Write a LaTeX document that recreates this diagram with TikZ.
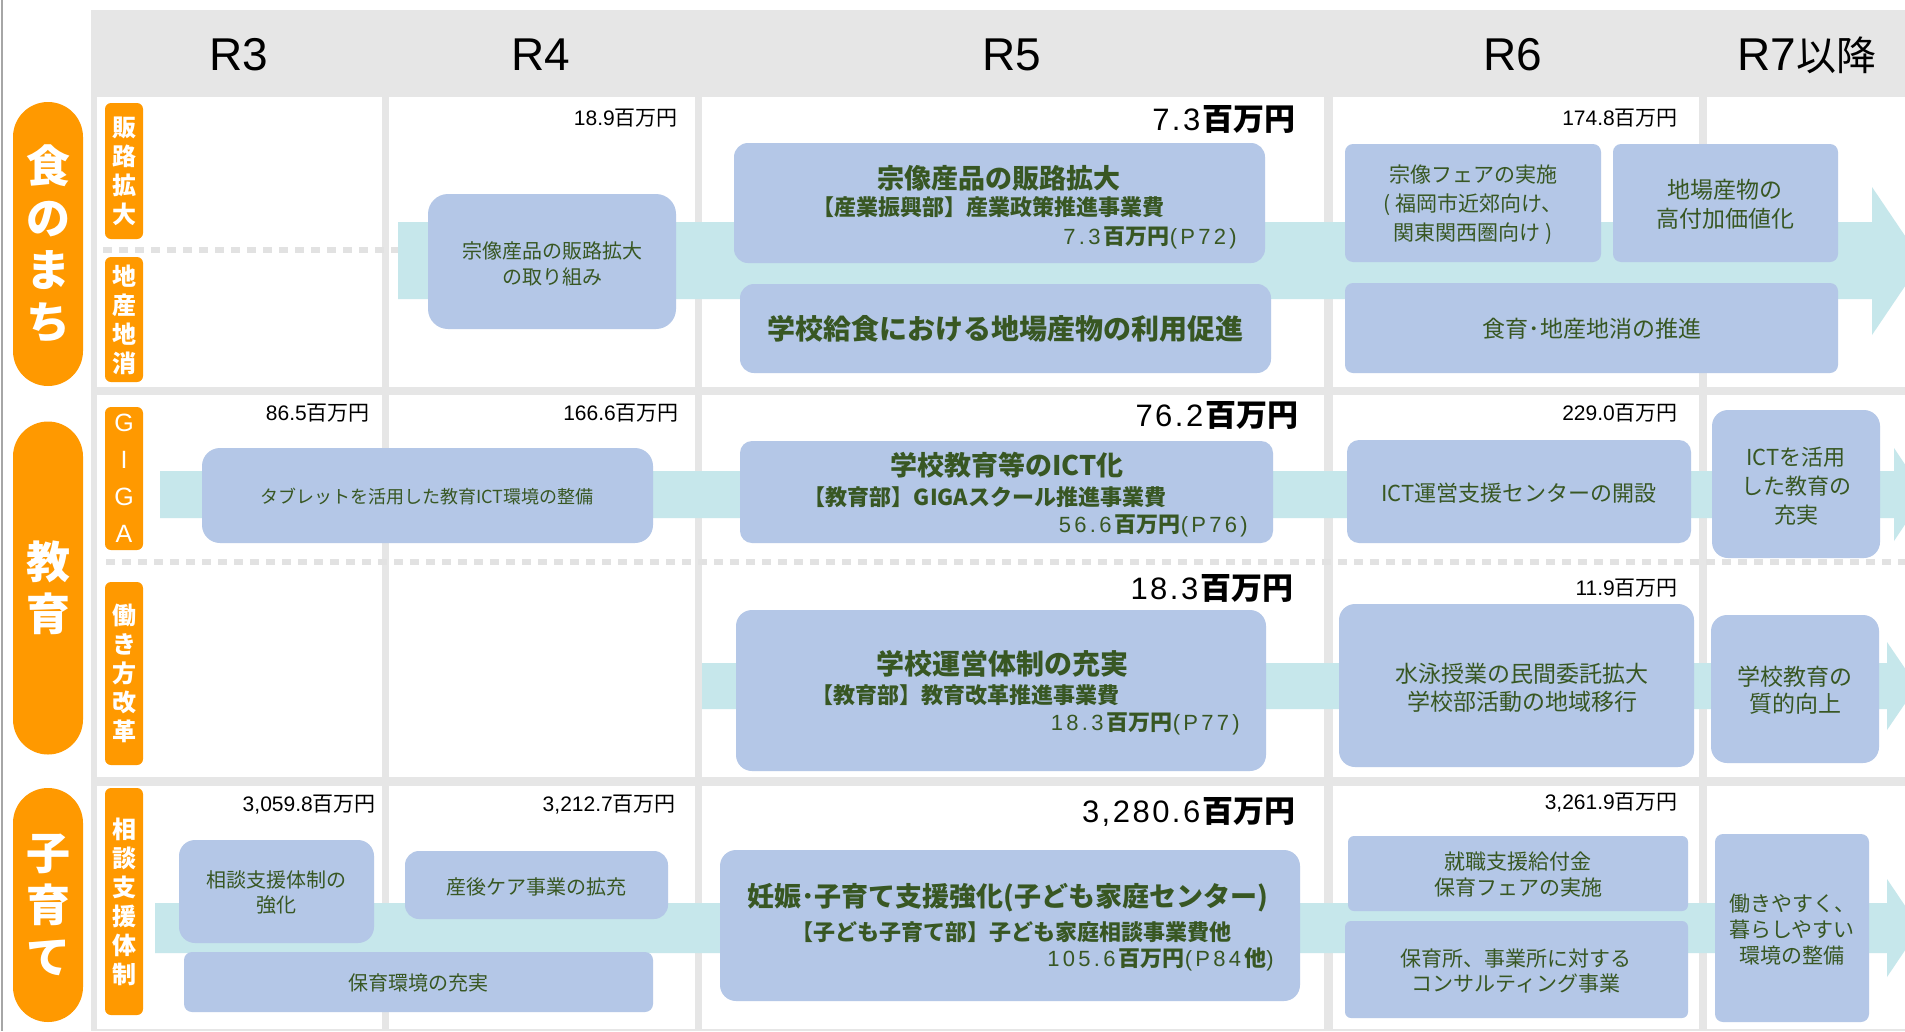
\documentclass[tikz,border=0pt]{standalone}
\usepackage{fontspec}
\setmainfont{Noto Sans CJK JP}
\newfontfamily\lat{Liberation Sans}
\newfontfamily\latw{Liberation Sans}[LetterSpace=8]
\newfontfamily\latx{Liberation Sans}[LetterSpace=15]
\newcommand\fsz[2]{\fontsize{#1}{#2}\selectfont}
\definecolor{gridgray}{HTML}{E6E6E6}
\definecolor{dotgray}{HTML}{E2E2E2}
\definecolor{orng}{HTML}{FF9900}
\definecolor{boxblue}{HTML}{B4C7E7}
\definecolor{bandcyan}{HTML}{C6E7EB}
\definecolor{tgreen}{HTML}{385723}
\newcommand\mkbox[6]{\node[box=#6, minimum width={#4-#2}, minimum height={#5-#3}] (#1) at ({(#2+#4)/2},{(#3+#5)/2}) {};}
\tikzset{
 box/.style={fill=boxblue, rounded corners=#1, inner sep=0pt, outer sep=0pt},
 txt/.style={text=tgreen, align=center, inner sep=0pt, font=#1},
 amt/.style={text=black, anchor=east, inner sep=0pt, font=#1},
 olab/.style={fill=orng, rounded corners=6pt, minimum width=38pt, inner sep=0pt, text=white, align=center, font=\fsz{24}{29}\bfseries},
 pill/.style={fill=orng, rounded corners=35pt, minimum width=70pt, inner sep=0pt, text=white, align=center, font=\fsz{44}{52}\bfseries},
 band/.style={fill=bandcyan},
 dotline/.style={draw=dotgray, line width=6pt, dash pattern=on 9pt off 7pt},
 hdr/.style={font=\lat\fsz{46}{50}, inner sep=0pt},
}
\begin{document}
\begin{tikzpicture}[x=1pt,y=-1pt]
\useasboundingbox (0,0) rectangle (1905,1031);
\clip (0,0) rectangle (1905,1031);
\fill[white] (0,0) rectangle (1905,1031);
% grid
\fill[gridgray] (91,10) rectangle (1905,1031);
\foreach \xa/\xb in {97/382,389/695,702/1324,1333/1699,1707/1905}
  \foreach \ya/\yb in {97/387,395/777,786/1029}
    \fill[white] (\xa,\ya) rectangle (\xb,\yb);
\draw[gray!70, line width=2pt] (2,0) -- (2,1031);
% headers
\node[hdr] (h3) at (239,55) {R3};
\node[hdr] (h4) at (541,55) {R4};
\node[hdr] (h5) at (1012,55) {R5};
\node[hdr] (h6) at (1513,55) {R6};
\node[hdr] (h7) at (1807,55) {R7{\rmfamily\fsz{40}{40}以降}};
% side labels
\node[pill, minimum height=284pt] (p1) at (48,244) {食\\の\\ま\\ち};
\node[pill, minimum height=333pt] (p2) at (48,588) {教\\育};
\node[pill, minimum height=234pt] (p3) at (48,905) {子\\育\\て};
\node[olab, minimum height=136pt] (l1) at (124,171) {販\\路\\拡\\大};
\node[olab, minimum height=125pt] (l2) at (124,319.5) {地\\産\\地\\消};
\node[olab, minimum height=143pt, font=\lat\fsz{25}{37}] (l3) at (124,478.5) {G\\I\\G\\A};
\node[olab, minimum height=183pt] (l4) at (124,673.5) {働\\き\\方\\改\\革};
\node[olab, minimum height=227pt] (l5) at (124,901.5) {相\\談\\支\\援\\体\\制};
% dotted separators
\draw[dotline] (103,250) -- (398,250);
\draw[dotline] (106,562) -- (1905,562);
% bands
\fill[band] (398,222) -- (1872,222) -- (1872,187) -- (1922,261) -- (1872,335) -- (1872,299) -- (398,299) -- cycle;
\fill[band] (160,471) -- (1894,471) -- (1894,448) -- (1925,494.5) -- (1894,541) -- (1894,518) -- (160,518) -- cycle;
\fill[band] (702,663) -- (1887,663) -- (1887,642) -- (1917,686) -- (1887,730) -- (1887,709) -- (702,709) -- cycle;
\fill[band] (155,903) -- (1887,903) -- (1887,879) -- (1920,928) -- (1887,977) -- (1887,953) -- (155,953) -- cycle;
% amounts
\node[amt={\fsz{21}{24}}] (m1) at (678,118) {{\lat 18.9}百万円};
\node[amt={\fsz{31}{34}}] (m2) at (1296,119) {{\latw 7.3}\textbf{百万円}};
\node[amt={\fsz{21}{24}}] (m3) at (1678,118) {{\lat 174.8}百万円};
\node[amt={\fsz{21}{24}}] (m4) at (370,413) {{\lat 86.5}百万円};
\node[amt={\fsz{21}{24}}] (m5) at (679,413) {{\lat 166.6}百万円};
\node[amt={\fsz{31}{34}}] (m6) at (1299,415) {{\latw 76.2}\textbf{百万円}};
\node[amt={\fsz{21}{24}}] (m7) at (1678,413) {{\lat 229.0}百万円};
\node[amt={\fsz{31}{34}}] (m8) at (1294,588) {{\latw 18.3}\textbf{百万円}};
\node[amt={\fsz{21}{24}}] (m9) at (1678,588) {{\lat 11.9}百万円};
\node[amt={\fsz{21}{24}}] (m10) at (376,805) {{\lat 3,059.8}百万円};
\node[amt={\fsz{21}{24}}] (m11) at (676,805) {{\lat 3,212.7}百万円};
\node[amt={\fsz{31}{34}}] (m12) at (1296,812) {{\latw 3,280.6}\textbf{百万円}};
\node[amt={\fsz{21}{24}}] (m13) at (1678,803) {{\lat 3,261.9}百万円};
% row 1 boxes
\mkbox{a1}{428}{194}{676}{329}{20pt}
\mkbox{a2}{734}{143}{1265}{263}{14pt}
\mkbox{a3}{740}{284}{1271}{373}{14pt}
\mkbox{a4}{1345}{144}{1601}{262}{8pt}
\mkbox{a5}{1613}{144}{1838}{262}{8pt}
\mkbox{a6}{1345}{283}{1838}{373}{8pt}
\node[txt={\fsz{20}{26}}] (a1t) at (552,264) {宗像産品の販路拡大\\の取り組み};
\node[txt={\fsz{27}{30}\bfseries}] (a2t1) at (999,178) {宗像産品の販路拡大};
\node[txt={\fsz{22}{26}\bfseries}] (a2t2) at (988,207) {【産業振興部】産業政策推進事業費};
\node[txt={\fsz{22}{24}}, anchor=east] (a2t3) at (1237,238) {{\latx 7.3}\textbf{百万円}{\latx (P72)}};
\node[txt={\fsz{28}{30}\bfseries}] (a3t) at (1005,329) {学校給食における地場産物の利用促進};
\node[txt={\fsz{21}{29}}] (a4t) at (1473,205) {宗像フェアの実施\\( 福岡市近郊向け、\\関東関西圏向け )};
\node[txt={\fsz{23}{29}}] (a5t) at (1725,204) {地場産物の\\高付加価値化};
\node[txt={\fsz{23}{26}}] (a6t) at (1592,329) {食育･地産地消の推進};
% row 2 boxes
\mkbox{b1}{202}{448}{653}{543}{18pt}
\mkbox{b2}{740}{441}{1273}{543}{12pt}
\mkbox{b3}{1347}{440}{1691}{543}{12pt}
\mkbox{b4}{1712}{410}{1880}{558}{16pt}
\mkbox{c1}{736}{610}{1266}{771}{16pt}
\mkbox{c2}{1339}{604}{1694}{767}{16pt}
\mkbox{c3}{1711}{615}{1879}{763}{16pt}
\node[txt={\fsz{18}{22}}] (b1t) at (427,497) {タブレットを活用した教育ICT環境の整備};
\node[txt={\fsz{27}{30}\bfseries}] (b2t1) at (1007,465) {学校教育等のICT化};
\node[txt={\fsz{22}{26}\bfseries}] (b2t2) at (985,497) {【教育部】GIGAスクール推進事業費};
\node[txt={\fsz{22}{24}}, anchor=east] (b2t3) at (1248,526) {{\latx 56.6}\textbf{百万円}{\latx (P76)}};
\node[txt={\fsz{22}{26}}] (b3t) at (1519,493) {ICT運営支援センターの開設};
\node[txt={\fsz{22}{29}}] (b4t) at (1796,486) {ICTを活用\\した教育の\\充実};
\node[txt={\fsz{28}{30}\bfseries}] (c1t1) at (1002,664) {学校運営体制の充実};
\node[txt={\fsz{22}{26}\bfseries}] (c1t2) at (965,695) {【教育部】教育改革推進事業費};
\node[txt={\fsz{22}{24}}, anchor=east] (c1t3) at (1240,724) {{\latx 18.3}\textbf{百万円}{\latx (P77)}};
\node[txt={\fsz{23}{28}}] (c2t) at (1522,688) {水泳授業の民間委託拡大\\学校部活動の地域移行};
\node[txt={\fsz{23}{27}}] (c3t) at (1795,690) {学校教育の\\質的向上};
% row 3 boxes
\mkbox{d1}{179}{840}{374}{943}{16pt}
\mkbox{d2}{405}{851}{668}{919}{14pt}
\mkbox{d3}{184}{952}{653}{1012}{8pt}
\mkbox{d4}{720}{850}{1300}{1001}{16pt}
\mkbox{d5}{1348}{836}{1688}{911}{6pt}
\mkbox{d6}{1345}{921}{1688}{1018}{6pt}
\mkbox{d7}{1715}{834}{1869}{1022}{8pt}
\node[txt={\fsz{20}{25}}] (d1t) at (276,892) {相談支援体制の\\強化};
\node[txt={\fsz{20}{24}}] (d2t) at (536,887) {産後ケア事業の拡充};
\node[txt={\fsz{20}{24}}] (d3t) at (418,983) {保育環境の充実};
\node[txt={\fsz{27}{30}\bfseries}] (d4t1) at (1008,898) {妊娠･子育て支援強化(子ども家庭センター)};
\node[txt={\fsz{22}{26}\bfseries}] (d4t2) at (1011,932) {【子ども子育て部】子ども家庭相談事業費他};
\node[txt={\fsz{22}{24}}, anchor=east] (d4t3) at (1274,959) {{\latx 105.6}\textbf{百万円}{\latx (P84}\textbf{他}{\latx )}};
\node[txt={\fsz{21}{26}}] (d5t) at (1518,875) {就職支援給付金\\保育フェアの実施};
\node[txt={\fsz{21}{25}}] (d6t) at (1516,971) {保育所、事業所に対する\\コンサルティング事業};
\node[txt={\fsz{21}{26}}] (d7t) at (1792,930) {働きやすく、\\暮らしやすい\\環境の整備};
\end{tikzpicture}
\end{document}
